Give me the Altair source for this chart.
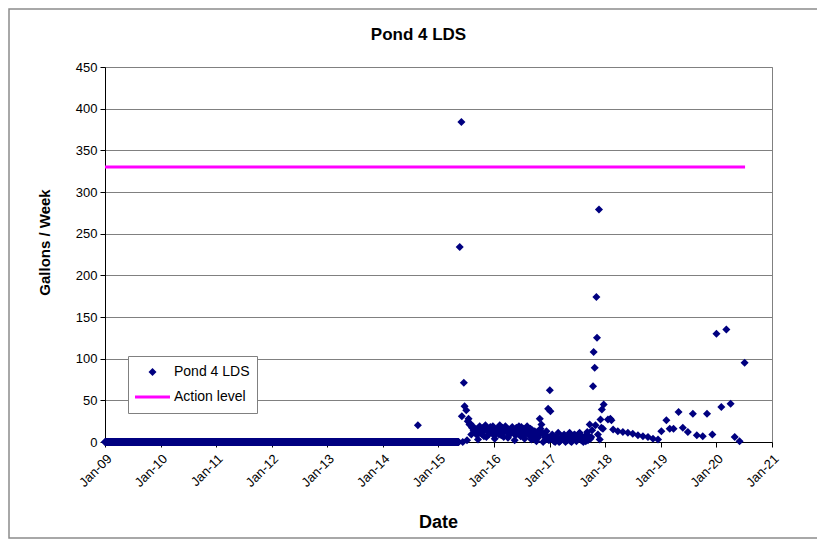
import altair as alt
import pandas as pd

# ---- data ----
series_names = ["Pond 4 LDS", "Action level"]
series_colors = ["#000080", "#FF00FF"]

# long run of zero readings (a solid band along the axis)
zero_start = "2009-01-01"
zero_end = "2015-05-14"

pt_dates = [
    "2014-08-19", "2015-05-21", "2015-06-01", "2015-06-04", "2015-06-10", "2015-06-17",
    "2015-06-22", "2015-07-03", "2015-07-08", "2015-07-13", "2015-07-18", "2015-07-24",
    "2015-07-30", "2015-08-05", "2015-08-10", "2015-08-15", "2015-08-20", "2015-08-26",
    "2015-09-01", "2015-09-07", "2015-09-12", "2015-09-18", "2015-09-24", "2015-09-29",
    "2015-10-05", "2015-10-12", "2015-10-17", "2015-10-22", "2015-10-27", "2015-11-01",
    "2015-11-06", "2015-11-12", "2015-11-17", "2015-11-22", "2015-11-28", "2015-12-03",
    "2015-12-08", "2015-12-14", "2015-12-19", "2015-12-25", "2015-12-31", "2016-01-06",
    "2016-01-11", "2016-01-16", "2016-01-22", "2016-01-28", "2016-02-03", "2016-02-08",
    "2016-02-13", "2016-02-18", "2016-02-24", "2016-02-29", "2016-03-05", "2016-03-11",
    "2016-03-16", "2016-03-22", "2016-03-28", "2016-04-02", "2016-04-08", "2016-04-13",
    "2016-04-19", "2016-04-24", "2016-04-30", "2016-05-05", "2016-05-10", "2016-05-16",
    "2016-05-21", "2016-05-27", "2016-06-02", "2016-06-07", "2016-06-13", "2016-06-18",
    "2016-06-24", "2016-06-29", "2016-07-04", "2016-07-09", "2016-07-15", "2016-07-20",
    "2016-07-26", "2016-08-01", "2016-08-06", "2016-08-12", "2016-08-17", "2016-08-23",
    "2016-08-28", "2016-09-03", "2016-09-09", "2016-09-14", "2016-09-20", "2016-09-25",
    "2016-10-01", "2016-10-06", "2016-10-11", "2016-10-16", "2016-10-22", "2016-10-28",
    "2016-11-02", "2016-11-08", "2016-11-14", "2016-11-19", "2016-11-25", "2016-11-30",
    "2016-12-06", "2016-12-11", "2016-12-16", "2016-12-22", "2016-12-27", "2017-01-02",
    "2017-01-06", "2017-01-12", "2017-01-18", "2017-01-23", "2017-01-30", "2017-02-06",
    "2017-02-13", "2017-02-20", "2017-02-26", "2017-03-04", "2017-03-10", "2017-03-17",
    "2017-03-23", "2017-03-29", "2017-04-06", "2017-04-15", "2017-04-22", "2017-04-28",
    "2017-05-05", "2017-05-12", "2017-05-18", "2017-05-25", "2017-06-03", "2017-06-08",
    "2017-06-14", "2017-06-20", "2017-06-26", "2017-07-01", "2017-07-06", "2017-07-12",
    "2017-07-17", "2017-07-22", "2017-07-28", "2017-08-03", "2017-08-10", "2017-08-15",
    "2017-08-20", "2017-08-26", "2017-08-31", "2017-09-05", "2017-09-10", "2017-09-16",
    "2017-09-21", "2017-09-26", "2017-10-01", "2017-10-07", "2017-10-13", "2017-10-17",
    "2017-10-24", "2017-10-29", "2017-11-04", "2017-11-08", "2017-11-14", "2017-11-21",
    "2017-11-26", "2017-12-01", "2017-12-07", "2017-12-10", "2017-12-17", "2017-12-22",
    "2018-01-19", "2018-02-04", "2018-02-11", "2018-02-22", "2018-03-25", "2018-04-27",
    "2018-05-30", "2018-07-01", "2018-08-04", "2018-09-06", "2018-10-09", "2018-11-11",
    "2018-12-14", "2019-01-05", "2019-02-07", "2019-03-01", "2019-03-26", "2019-04-28",
    "2019-05-26", "2019-06-28", "2019-07-31", "2019-08-26", "2019-10-04", "2019-11-01",
    "2019-12-06", "2020-01-02", "2020-02-03", "2020-03-07", "2020-04-04", "2020-05-01",
    "2020-06-02", "2020-07-05",
]
pt_values = [
    20, 234, 384, 31, 0, 71,
    43, 38, 2, 25, 28, 21,
    22, 9, 17, 19, 14, 13,
    11, 15, 8, 3, 12, 19,
    16, 10, 13, 17, 7, 15,
    20, 6, 14, 12, 9, 11,
    18, 17, 12, 19, 8, 4,
    14, 10, 16, 15, 9, 20,
    13, 8, 17, 12, 6, 14,
    19, 17, 11, 5, 15, 9,
    13, 11, 18, 16, 12, 2,
    8, 17, 14, 10, 19, 13,
    7, 18, 12, 7, 16, 4,
    10, 15, 19, 12, 8, 11,
    16, 3, 14, 9, 6, 13,
    10, 1, 12, 5, 8, 28,
    16, 21, 11, 0, 9, 6,
    3, 13, 7, 40, 2, 62,
    37, 5, 9, 3, 1, 0,
    6, 2, 11, 0, 1, 4,
    7, 5, 9, 0, 3, 2,
    6, 11, 1, 0, 4, 8,
    9, 3, 1, 5, 7, 10,
    11, 4, 2, 6, 0, 3,
    5, 1, 9, 12, 2, 7,
    21, 4, 6, 14, 67, 108,
    89, 20, 174, 125, 9, 279,
    3, 27, 17, 39, 16, 45,
    27, 28, 26, 15, 13, 12,
    11, 10, 8, 7, 6, 4,
    3, 13, 26, 16, 16, 36,
    17, 12, 34, 8, 7, 34,
    9, 130, 42, 135, 46, 6,
    1, 95,
]

action_dates = ["2009-01-01", "2020-07-08"]
action_values = [330, 330]

y_ticks = [0, 50, 100, 150, 200, 250, 300, 350, 400, 450]
tick_years = list(range(2009, 2022))

# ---- tables ----
zero_dates = pd.date_range(zero_start, zero_end, freq="2D").strftime("%Y-%m-%d").tolist()
pts = pd.DataFrame({
    "date": zero_dates + pt_dates,
    "value": [0] * len(zero_dates) + pt_values,
    "series": "Pond 4 LDS",
})
action = pd.DataFrame({"date": action_dates, "value": action_values})

# symbol paths: a small diamond and a long flat bar (for the legend line)
shape_paths = [
    "M0,-0.23L0.23,0L0,0.23L-0.23,0Z",
    "M-1,-0.09L1,-0.09L1,0.09L-1,0.09Z",
]

font = "Liberation Sans"

x_enc = alt.X(
    "date:T",
    scale=alt.Scale(domain=[alt.DateTime(year=2009, month=1, date=1),
                            alt.DateTime(year=2021, month=1, date=1)]),
    axis=alt.Axis(
        values=[alt.DateTime(year=y, month=1, date=1) for y in tick_years],
        format="%b-%y", labelAngle=-45, grid=False, title="Date",
        titleFontSize=18, titleFontWeight="bold", titleX=333, titleY=85,
        titleBaseline="alphabetic", labelFontSize=13, labelPadding=5,
    ),
)
y_enc = alt.Y(
    "value:Q",
    scale=alt.Scale(domain=[0, 450], nice=False),
    axis=alt.Axis(
        values=y_ticks, grid=True, gridColor="#808080", title="Gallons / Week",
        titleFontSize=15, titleFontWeight="bold", titleX=-56, titleY=175,
        titleBaseline="alphabetic", labelFontSize=13, labelPadding=3,
    ),
)

leg = alt.Legend(
    title=None, orient="none", legendX=23, legendY=289,
    fillColor="white", strokeColor="#808080", padding=7,
    symbolSize=1225, symbolStrokeWidth=0, symbolOpacity=1,
    labelFontSize=14, labelFont=font, labelColor="black",
    clipHeight=18, rowPadding=7, labelOffset=4,
)

border = alt.Chart(pd.DataFrame({"k": [1]})).mark_rect(
    fill="transparent", stroke="#8c8c8c", strokeWidth=1.5
).encode(x=alt.value(-96), x2=alt.value(717), y=alt.value(-58), y2=alt.value(471))

line = alt.Chart(action).mark_line(color="#FF00FF", strokeWidth=3).encode(x=x_enc, y=y_enc)

points = alt.Chart(pts).mark_point(filled=True, size=1225, opacity=1, strokeWidth=0).encode(
    x=x_enc,
    y=y_enc,
    color=alt.Color("series:N", scale=alt.Scale(domain=series_names, range=series_colors), legend=leg),
    shape=alt.Shape("series:N", scale=alt.Scale(domain=series_names, range=shape_paths), legend=leg),
)

chart = alt.layer(border, line, points).properties(
    width=667, height=375,
    autosize="none",
    padding={"left": 97, "top": 59, "right": 45, "bottom": 97},
    title=alt.TitleParams("Pond 4 LDS", fontSize=17, fontWeight="bold", font=font,
                          anchor="middle", dx=-20, offset=0, dy=49, baseline="alphabetic"),
).configure(font=font).configure_view(stroke="#808080").configure_axis(
    domainColor="black", tickColor="black", tickSize=5, labelColor="black",
    titleColor="black", labelFont=font, titleFont=font,
)

chart.save("out.html", embed_options={"renderer": "svg", "actions": False})
